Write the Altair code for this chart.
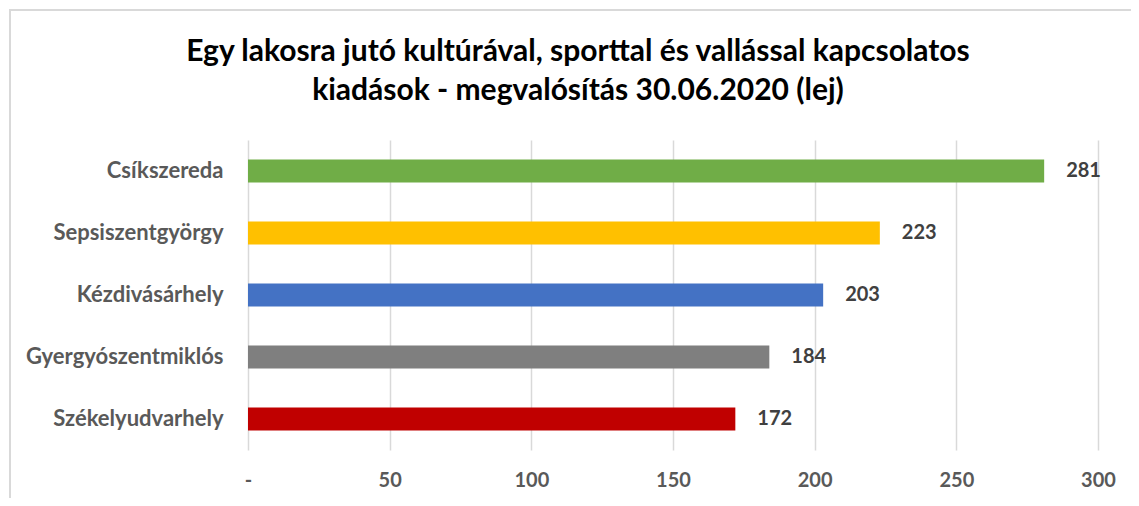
import altair as alt
import pandas as pd

categories = ["Csíkszereda", "Sepsiszentgyörgy", "Kézdivásárhely", "Gyergyószentmiklós", "Székelyudvarhely"]
values = [281, 223, 203, 184, 172]
colors = ["#70AD47", "#FFC000", "#4472C4", "#7F7F7F", "#C00000"]
x_ticks = [0, 50, 100, 150, 200, 250, 300]
title_lines = ["Egy lakosra jutó kultúrával, sporttal és vallással kapcsolatos",
               "kiadások - megvalósítás 30.06.2020 (lej)"]

df = pd.DataFrame({"varos": categories, "ertek": values})
FONT = "Lato"

x_enc = alt.X("ertek:Q", scale=alt.Scale(domain=[0, 300], nice=False),
              axis=alt.Axis(values=x_ticks, title=None, domain=False, ticks=False,
                            grid=True, gridColor="#D9D9D9", gridWidth=1.5,
                            labelExpr="datum.value == 0 ? '-' : datum.label",
                            labelFlush=False,
                            labelFont=FONT, labelFontSize=20, labelFontWeight="bold",
                            labelColor="#595959", labelPadding=20))
y_enc = alt.Y("varos:N", sort=categories,
              axis=alt.Axis(title=None, domain=False, ticks=False, grid=False,
                            labelLimit=400,
                            labelFont=FONT, labelFontSize=22, labelFontWeight="bold",
                            labelColor="#595959", labelPadding=25))

bars = alt.Chart(df).mark_bar(size=23).encode(
    x=x_enc, y=y_enc,
    color=alt.Color("varos:N", scale=alt.Scale(domain=categories, range=colors), legend=None),
)

labels = alt.Chart(df).mark_text(align="left", baseline="middle", dx=22,
                                 font=FONT, fontSize=20, fontWeight="bold",
                                 color="#404040").encode(
    x="ertek:Q", y=alt.Y("varos:N", sort=categories), text="ertek:Q")

one = pd.DataFrame({"a": [0]})
border_left = alt.Chart(one).mark_rule(stroke="#D9D9D9", strokeWidth=2).encode(
    x=alt.value(-238), y=alt.value(-131), y2=alt.value(400))
border_top = alt.Chart(one).mark_rule(stroke="#D9D9D9", strokeWidth=2).encode(
    x=alt.value(-239), x2=alt.value(950), y=alt.value(-130))

chart = alt.layer(border_left, border_top, bars, labels).properties(
    width=850, height=310,
    padding={"left": 240, "top": 132, "right": 33, "bottom": 48},
    autosize=alt.AutoSizeParams(type="none"),
    title=alt.TitleParams(title_lines, font=FONT, fontSize=30, fontWeight="bold",
                          color="#000000", anchor="middle", frame="group",
                          lineHeight=39, offset=-98, dx=-95),
).configure_view(stroke=None)

chart.save("out.html", embed_options={"renderer": "svg", "actions": False})
